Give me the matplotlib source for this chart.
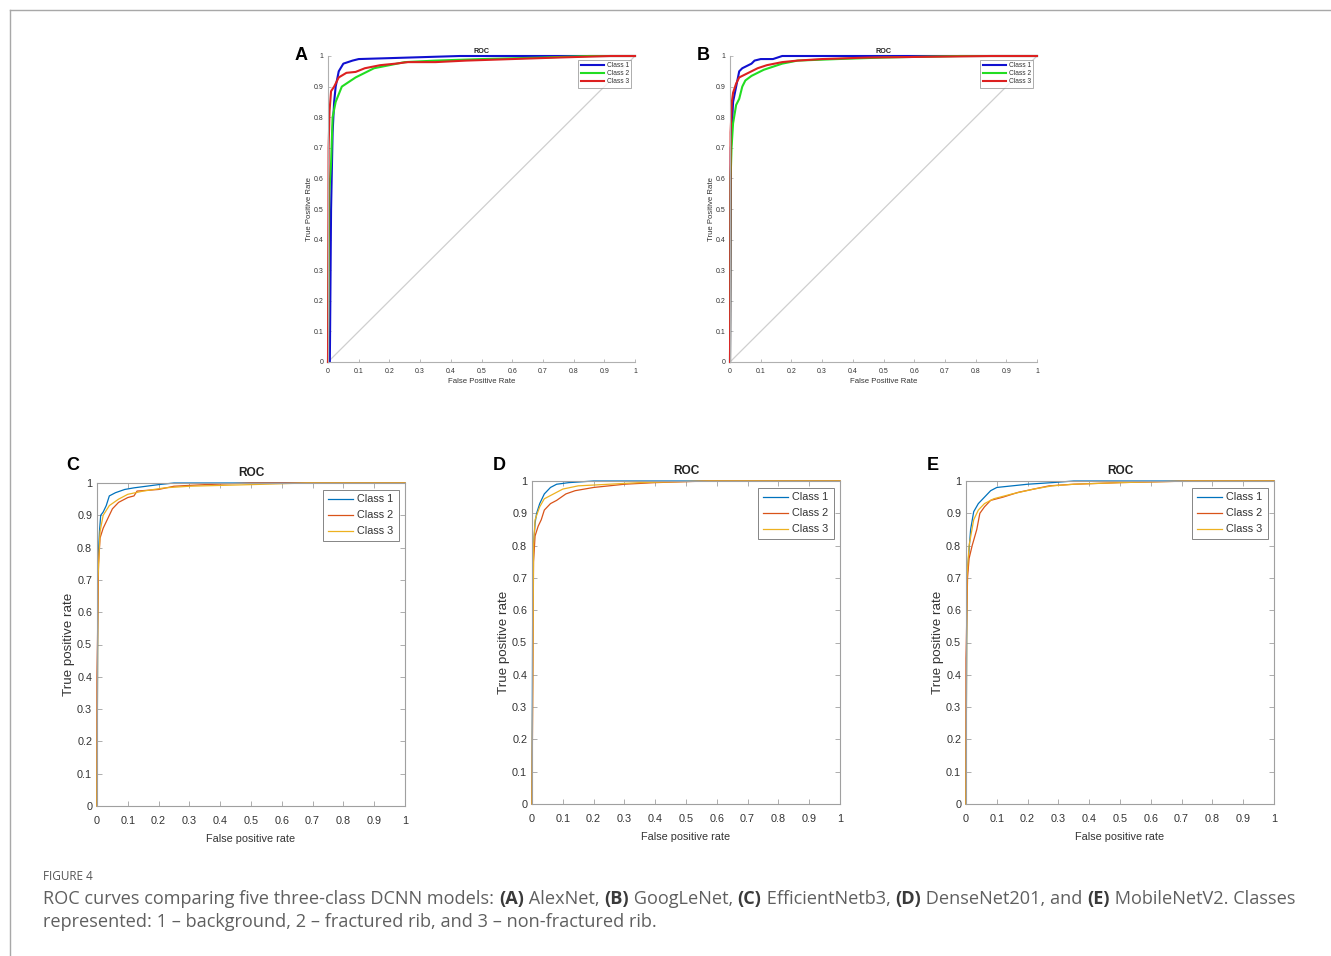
import matplotlib
matplotlib.use("Agg")
import matplotlib.pyplot as plt
from matplotlib.lines import Line2D

plt.rcParams['font.family'] = ['Liberation Sans', 'DejaVu Sans']

# ---------------- data ----------------
class_labels = ["Class 1", "Class 2", "Class 3"]
tick_vals = [0, 0.1, 0.2, 0.3, 0.4, 0.5, 0.6, 0.7, 0.8, 0.9, 1.0]
tick_labels = ["0", "0.1", "0.2", "0.3", "0.4", "0.5", "0.6", "0.7", "0.8", "0.9", "1"]

# Panel A (AlexNet)
A_fpr_1 = [0, 0.006, 0.01, 0.015, 0.02, 0.025, 0.035, 0.05, 0.08, 0.1, 0.2, 0.43, 1.0]
A_tpr_1 = [0, 0.0, 0.5, 0.75, 0.85, 0.9, 0.95, 0.975, 0.985, 0.99, 0.993, 1.0, 1.0]
A_fpr_2 = [0, 0.004, 0.01, 0.015, 0.025, 0.045, 0.06, 0.09, 0.12, 0.15, 0.2, 0.25, 0.35, 0.5, 0.7, 0.85, 1.0]
A_tpr_2 = [0, 0.55, 0.65, 0.8, 0.85, 0.9, 0.91, 0.93, 0.945, 0.96, 0.97, 0.98, 0.985, 0.99, 0.995, 1.0, 1.0]
A_fpr_3 = [0, 0.002, 0.005, 0.01, 0.02, 0.035, 0.06, 0.09, 0.12, 0.17, 0.22, 0.26, 0.35, 0.45, 0.6, 0.75, 0.92, 1.0]
A_tpr_3 = [0, 0.7, 0.82, 0.885, 0.9, 0.93, 0.945, 0.948, 0.96, 0.97, 0.975, 0.98, 0.98, 0.985, 0.99, 0.995, 1.0, 1.0]

# Panel B (GoogLeNet)
B_fpr_1 = [0, 0.003, 0.01, 0.02, 0.03, 0.04, 0.05, 0.07, 0.08, 0.1, 0.14, 0.17, 1.0]
B_tpr_1 = [0, 0.7, 0.85, 0.9, 0.95, 0.96, 0.965, 0.975, 0.985, 0.99, 0.99, 1.0, 1.0]
B_fpr_2 = [0, 0.002, 0.005, 0.01, 0.02, 0.03, 0.04, 0.05, 0.07, 0.09, 0.11, 0.14, 0.17, 0.22, 0.35, 0.5, 0.75, 1.0]
B_tpr_2 = [0, 0.6, 0.7, 0.78, 0.84, 0.86, 0.9, 0.92, 0.935, 0.945, 0.955, 0.965, 0.975, 0.985, 0.99, 0.995, 1.0, 1.0]
B_fpr_3 = [0, 0.002, 0.006, 0.01, 0.02, 0.03, 0.05, 0.07, 0.09, 0.12, 0.17, 0.22, 0.3, 0.45, 0.85, 1.0]
B_tpr_3 = [0, 0.75, 0.85, 0.88, 0.91, 0.93, 0.94, 0.95, 0.96, 0.97, 0.98, 0.985, 0.99, 0.995, 1.0, 1.0]

# Panel C (EfficientNetb3)
C_fpr_1 = [0, 0.003, 0.008, 0.012, 0.02, 0.03, 0.04, 0.06, 0.09, 0.12, 0.16, 0.2, 0.25, 1.0]
C_tpr_1 = [0, 0.75, 0.85, 0.9, 0.91, 0.93, 0.96, 0.97, 0.98, 0.985, 0.99, 0.995, 1.0, 1.0]
C_fpr_2 = [0, 0.0, 0.005, 0.01, 0.02, 0.03, 0.05, 0.07, 0.1, 0.12, 0.13, 0.2, 0.25, 0.35, 0.5, 1.0]
C_tpr_2 = [0, 0.4, 0.75, 0.83, 0.86, 0.88, 0.92, 0.94, 0.955, 0.96, 0.975, 0.98, 0.99, 0.995, 1.0, 1.0]
C_fpr_3 = [0, 0.003, 0.01, 0.02, 0.04, 0.07, 0.1, 0.15, 0.22, 0.3, 0.5, 0.68, 1.0]
C_tpr_3 = [0, 0.7, 0.85, 0.9, 0.93, 0.95, 0.965, 0.975, 0.985, 0.99, 0.995, 1.0, 1.0]

# Panel D (DenseNet201)
D_fpr_1 = [0, 0.002, 0.005, 0.01, 0.015, 0.025, 0.04, 0.06, 0.08, 0.12, 0.2, 1.0]
D_tpr_1 = [0, 0.55, 0.8, 0.87, 0.9, 0.93, 0.96, 0.98, 0.99, 0.995, 1.0, 1.0]
D_fpr_2 = [0, 0.005, 0.01, 0.02, 0.03, 0.04, 0.06, 0.08, 0.11, 0.14, 0.2, 0.25, 0.3, 0.4, 0.57, 1.0]
D_tpr_2 = [0, 0.75, 0.83, 0.86, 0.88, 0.91, 0.93, 0.94, 0.96, 0.97, 0.98, 0.985, 0.99, 0.995, 1.0, 1.0]
D_fpr_3 = [0, 0.005, 0.01, 0.025, 0.04, 0.07, 0.1, 0.15, 0.25, 0.35, 0.57, 1.0]
D_tpr_3 = [0, 0.8, 0.88, 0.92, 0.945, 0.96, 0.975, 0.985, 0.99, 0.995, 1.0, 1.0]

# Panel E (MobileNetV2)
E_fpr_1 = [0, 0.003, 0.015, 0.025, 0.04, 0.06, 0.08, 0.1, 0.15, 0.2, 0.28, 0.35, 1.0]
E_tpr_1 = [0, 0.7, 0.85, 0.905, 0.93, 0.95, 0.97, 0.98, 0.985, 0.99, 0.995, 1.0, 1.0]
E_fpr_2 = [0, 0.0, 0.005, 0.01, 0.02, 0.035, 0.045, 0.06, 0.08, 0.12, 0.17, 0.22, 0.27, 0.35, 0.5, 0.73, 1.0]
E_tpr_2 = [0, 0.45, 0.7, 0.76, 0.8, 0.85, 0.9, 0.92, 0.94, 0.95, 0.965, 0.975, 0.985, 0.99, 0.995, 1.0, 1.0]
E_fpr_3 = [0, 0.003, 0.01, 0.025, 0.04, 0.06, 0.09, 0.15, 0.22, 0.28, 0.35, 0.5, 0.73, 1.0]
E_tpr_3 = [0, 0.7, 0.8, 0.88, 0.91, 0.93, 0.945, 0.96, 0.975, 0.985, 0.99, 0.995, 1.0, 1.0]

panel_letters = ["A", "B", "C", "D", "E"]
caption_head = "FIGURE 4"
caption_line1 = [("ROC curves comparing five three-class DCNN models: ", False), ("(A)", True),
                 (" AlexNet, ", False), ("(B)", True), (" GoogLeNet, ", False), ("(C)", True),
                 (" EfficientNetb3, ", False), ("(D)", True), (" DenseNet201, and ", False),
                 ("(E)", True), (" MobileNetV2. Classes", False)]
caption_line2 = [("represented: 1 \u2013 background, 2 \u2013 fractured rib, and 3 \u2013 non-fractured rib.", False)]

# ---------------- drawing ----------------
W, H = 1331, 956
fig = plt.figure(figsize=(W / 100, H / 100), dpi=100)
fig.patch.set_facecolor("white")

# outer frame lines
fig.add_artist(Line2D([10 / W, 1.0], [1 - 9.5 / H, 1 - 9.5 / H], color="#a8a8a8", lw=1.0))
fig.add_artist(Line2D([10 / W, 10 / W], [0, 1 - 9.5 / H], color="#a8a8a8", lw=1.0))


def px_axes(x0, y0, x1, y1):
    return fig.add_axes([x0 / W, 1 - y1 / H, (x1 - x0) / W, (y1 - y0) / H])


def style_axes(ax, small, box):
    ax.set_xlim(0, 1)
    ax.set_ylim(0, 1)
    ax.set_xticks(tick_vals)
    ax.set_yticks(tick_vals)
    ax.set_xticklabels(tick_labels)
    ax.set_yticklabels(tick_labels)
    spine_col = "#b0b0b0" if small else "#a0a0a0"
    for s in ax.spines.values():
        s.set_color(spine_col)
        s.set_linewidth(0.8)
    if not box:
        ax.spines["top"].set_visible(False)
        ax.spines["right"].set_visible(False)
    fs = 5.0 if small else 7.8
    ax.tick_params(axis="both", direction="in", length=2.5 if small else 3.5,
                   width=0.6, color=spine_col, labelsize=fs, labelcolor="#333333",
                   top=box, right=box)
    ax.tick_params(axis="x", pad=4 if small else 7)
    ax.tick_params(axis="y", pad=3 if small else 3.5)


big_colors = ["#1010d0", "#22dd22", "#dd2020"]
matlab_colors = ["#0072BD", "#D95319", "#EDB120"]

panels = [
    ("A", (328, 56, 635, 362), [(A_fpr_1, A_tpr_1), (A_fpr_2, A_tpr_2), (A_fpr_3, A_tpr_3)], True),
    ("B", (730, 56, 1037, 362), [(B_fpr_1, B_tpr_1), (B_fpr_2, B_tpr_2), (B_fpr_3, B_tpr_3)], True),
    ("C", (97, 483, 405, 806), [(C_fpr_1, C_tpr_1), (C_fpr_2, C_tpr_2), (C_fpr_3, C_tpr_3)], False),
    ("D", (532, 481, 840, 804), [(D_fpr_1, D_tpr_1), (D_fpr_2, D_tpr_2), (D_fpr_3, D_tpr_3)], False),
    ("E", (966, 481, 1274, 804), [(E_fpr_1, E_tpr_1), (E_fpr_2, E_tpr_2), (E_fpr_3, E_tpr_3)], False),
]

for letter, (x0, y0, x1, y1), series, small in panels:
    ax = px_axes(x0, y0, x1, y1)
    style_axes(ax, small, box=not small)
    cols = big_colors if small else matlab_colors
    lw = 1.5 if small else 0.9
    if small:
        ax.plot([0, 1], [0, 1], color="#cfcfcf", lw=0.9, zorder=1)
    for (fx, ty), c, lab in zip(series, cols, class_labels):
        ax.plot(fx, ty, color=c, lw=lw, label=lab, zorder=2, clip_on=False)
    if small:
        ax.set_title("ROC", fontsize=5.2, fontweight="bold", color="#222222", pad=2.5)
        ax.set_xlabel("False Positive Rate", fontsize=5.6, color="#333333", labelpad=2.5)
        ax.set_ylabel("True Positive Rate", fontsize=5.6, color="#333333", labelpad=1)
        leg = ax.legend(loc="upper right", fontsize=4.8, frameon=True, fancybox=False,
                        borderpad=0.35, handlelength=3.5, handletextpad=0.4, labelspacing=0.15,
                        borderaxespad=0.6)
        leg.get_frame().set_edgecolor("#888888")
        leg.get_frame().set_linewidth(0.6)
    else:
        ax.set_title("ROC", fontsize=8.6, fontweight="bold", color="#222222", pad=5)
        ax.set_xlabel("False positive rate", fontsize=7.8, color="#333333", labelpad=6)
        ax.set_ylabel("True positive rate", fontsize=9.6, color="#333333", labelpad=1.5)
        leg = ax.legend(loc="upper right", fontsize=7.8, frameon=True, fancybox=False,
                        borderpad=0.45, handlelength=2.3, handletextpad=0.4, labelspacing=0.55,
                        borderaxespad=0.6)
        leg.get_frame().set_edgecolor("#666666")
        leg.get_frame().set_linewidth(0.7)
    for t in leg.get_texts():
        t.set_color("#333333")

# panel letters
letter_pos = {"A": (301, 55), "B": (703, 55), "C": (73, 466), "D": (499, 466), "E": (933, 466)}
for L in panel_letters:
    x, y = letter_pos[L]
    fig.text(x / W, 1 - y / H, L, fontsize=13, fontweight="bold", color="#000000",
             ha="center", va="center")

# caption
fig.text(43 / W, 1 - 876 / H, caption_head, fontsize=8.5, color="#555555",
         family=["Open Sans", "DejaVu Sans"], va="center", ha="left")

renderer = fig.canvas.get_renderer()


def draw_segments(segments, x_px, y_px):
    x = x_px
    for txt, bold in segments:
        t = fig.text(x / W, 1 - y_px / H, txt, fontsize=13.1,
                     family=["Open Sans", "DejaVu Sans"],
                     fontweight="bold" if bold else "normal",
                     color="#3a3a3a" if bold else "#5f5f5f", va="center", ha="left")
        bb = t.get_window_extent(renderer=renderer)
        x += bb.width


draw_segments(caption_line1, 43, 899)
draw_segments(caption_line2, 43, 922)

fig.savefig("out.png", dpi=100, facecolor="white")
